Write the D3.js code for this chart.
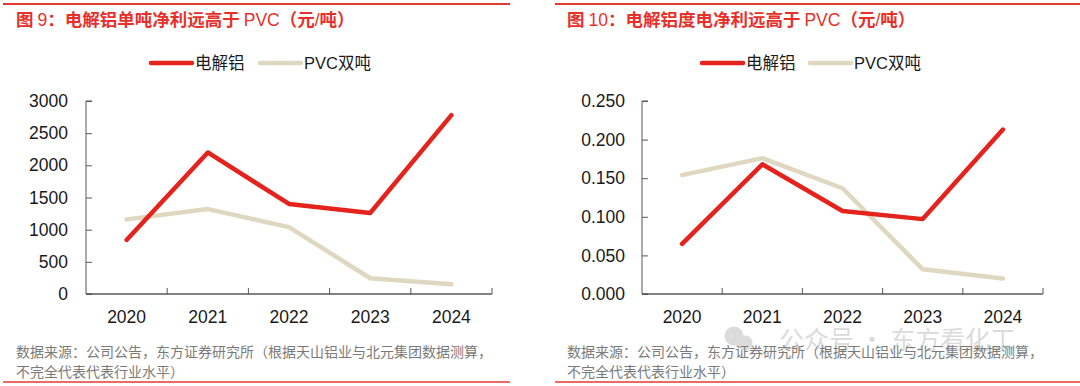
<!DOCTYPE html>
<html><head><meta charset="utf-8">
<script src="https://cdn.jsdelivr.net/npm/d3@7"></script>
<style>body{margin:0;background:#fff}svg{display:block}</style>
</head><body>
<svg id="c" width="1080" height="386"></svg>
<script>
const years = ["2020","2021","2022","2023","2024"];
const seriesNames = ["电解铝","PVC双吨"];
// Chart 1: net profit per ton (元/吨)
const alPerTon  = [840, 2200, 1400, 1260, 2780];
const pvcPerTon = [1160, 1320, 1040, 245, 150];
const ticks1 = [0, 500, 1000, 1500, 2000, 2500, 3000];
// Chart 2: net profit per kWh
const alPerKwh  = [0.065, 0.168, 0.1075, 0.097, 0.213];
const pvcPerKwh = [0.154, 0.176, 0.137, 0.032, 0.020];
const ticks2 = [0, 0.05, 0.10, 0.15, 0.20, 0.25];
// title pieces: [text, isLatin]
const title1 = [["图 ",0],["9",1],["：电解铝单吨净利远高于 ",0],["PVC",1],["（元",0],["/",1],["吨）",0]];
const title2 = [["图 ",0],["10",1],["：电解铝度电净利远高于 ",0],["PVC",1],["（元",0],["/",1],["吨）",0]];
const note1 = "数据来源：公司公告，东方证券研究所（根据天山铝业与北元集团数据测算，";
const note2 = "不完全代表代表行业水平）";

const RED = "#e3231c", BEIGE = "#e0d7c0", AXIS = "#595959", TXT = "#1a1a1a";
const FONT = "'Liberation Sans', Arial, 'Noto Sans CJK SC', sans-serif";
const CJK = "'Noto Sans CJK SC', sans-serif";
const svg = d3.select("#c").style("font-family", FONT);

function panel(o) {
  const g = svg.append("g");
  g.append("line").attr("x1", o.ruleX0).attr("x2", o.ruleX1).attr("y1", 4).attr("y2", 4)
    .attr("stroke", "#e03a33").attr("stroke-width", 2);
  const tt = g.append("text").attr("x", o.titleX).attr("y", 26)
    .attr("fill", "#e8302a").attr("font-size", 17.5);
  o.title.forEach(([t, lat]) => {
    tt.append("tspan").text(t)
      .style("font-family", lat ? "'Liberation Sans', Arial, sans-serif" : CJK)
      .attr("font-weight", lat ? "normal" : "bold");
  });
  [[o.leg[0], RED, seriesNames[0]], [o.leg[1], BEIGE, seriesNames[1]]].forEach(([x, c, t]) => {
    g.append("line").attr("x1", x).attr("x2", x + 41).attr("y1", 63).attr("y2", 63)
      .attr("stroke", c).attr("stroke-width", 4.5).attr("stroke-linecap", "round");
    g.append("text").attr("x", x + 44).attr("y", 69).text(t).attr("fill", TXT)
      .attr("font-size", 16.5);
  });
  const x = d3.scaleBand().domain(years).range([o.x0, o.x1]);
  const y = d3.scaleLinear().domain([0, o.max]).range([294, 101]);
  const ya = g.append("g").attr("transform", `translate(${o.x0},0)`)
    .call(d3.axisRight(y).tickValues(o.ticks).tickSize(6).tickFormat(() => ""));
  ya.select(".domain").attr("stroke", AXIS).attr("d", `M6,101H0V294H6`);
  ya.selectAll(".tick line").attr("stroke", AXIS);
  g.selectAll(".ylab").data(o.ticks).enter().append("text")
    .attr("x", o.x0 - o.labGap).attr("y", d => y(d)).attr("dy", "0.35em")
    .attr("text-anchor", "end").attr("font-size", 17.5).attr("fill", TXT)
    .text(d => o.fmt(d));
  const bounds = years.map(d => x(d)).concat([o.x1]);
  g.append("line").attr("x1", o.x0).attr("x2", o.x1).attr("y1", 294).attr("y2", 294)
    .attr("stroke", AXIS).attr("stroke-width", 1.3);
  g.selectAll(".xt").data(bounds.slice(1)).enter().append("line")
    .attr("x1", d => d).attr("x2", d => d).attr("y1", 294).attr("y2", 288)
    .attr("stroke", AXIS).attr("stroke-width", 1);
  g.selectAll(".xlab").data(years).enter().append("text")
    .attr("x", d => x(d) + x.bandwidth() / 2).attr("y", 323)
    .attr("text-anchor", "middle").attr("font-size", 17.5).attr("fill", TXT).text(d => d);
  const line = d3.line().x((d, i) => x(years[i]) + x.bandwidth() / 2).y(d => y(d));
  g.append("path").datum(o.b).attr("d", line).attr("fill", "none")
    .attr("stroke", BEIGE).attr("stroke-width", 4.5).attr("stroke-linecap", "round").attr("stroke-linejoin", "round");
  g.append("path").datum(o.a).attr("d", line).attr("fill", "none")
    .attr("stroke", RED).attr("stroke-width", 4.5).attr("stroke-linecap", "round").attr("stroke-linejoin", "round");
  g.append("text").attr("x", o.titleX).attr("y", 357).text(note1)
    .attr("font-size", 14).attr("fill", "#7a7a7a").style("font-family", CJK);
  g.append("text").attr("x", o.titleX).attr("y", 377).text(note2)
    .attr("font-size", 14).attr("fill", "#7a7a7a").style("font-family", CJK);
  g.append("line").attr("x1", o.ruleX0).attr("x2", o.ruleX1).attr("y1", 382).attr("y2", 382)
    .attr("stroke", "#e03a33").attr("stroke-width", 1.5);
}

panel({ruleX0: 3, ruleX1: 510, titleX: 16, title: title1, leg: [151, 260],
  x0: 86, x1: 492, max: 3000, ticks: ticks1, fmt: d3.format("d"), labGap: 18,
  a: alPerTon, b: pvcPerTon});
panel({ruleX0: 555, ruleX1: 1080, titleX: 567, title: title2, leg: [702, 810],
  x0: 642, x1: 1043, max: 0.25, ticks: ticks2, fmt: d3.format(".3f"), labGap: 17,
  a: alPerKwh, b: pvcPerKwh});

// watermark
const wm = svg.append("g").attr("opacity", 0.3);
wm.append("circle").attr("cx", 734).attr("cy", 336).attr("r", 9.5).attr("fill", "#8a8a8a");
wm.append("circle").attr("cx", 745).attr("cy", 343).attr("r", 7.5).attr("fill", "#8a8a8a");
wm.append("text").attr("x", 779).attr("y", 349).text("公众号 · 东方看化工")
  .attr("font-size", 25).attr("fill", "#8a8a8a").style("font-family", CJK);
</script>
</body></html>
